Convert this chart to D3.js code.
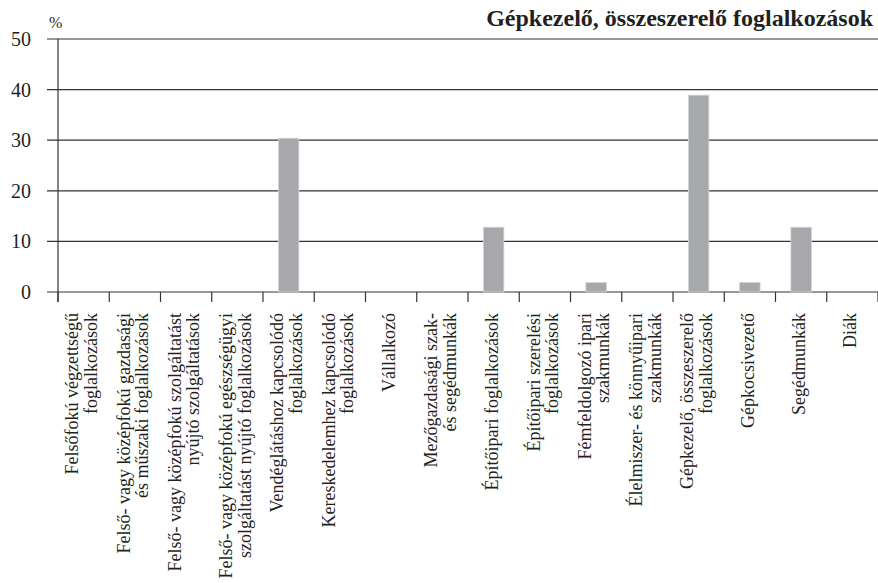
<!DOCTYPE html>
<html>
<meta charset="utf-8">
<head>
<script src="https://d3js.org/d3.v7.min.js"></script>
<style>
  body { margin: 0; background: #fff; }
  text { font-family: "Liberation Serif", "Times New Roman", serif; fill: #231f20; }
</style>
</head>
<body>
<div id="chart"></div>
<script>

// categories (each label split into its printed lines)
var categories = [
  ["Felsőfokú végzettségű", "foglalkozások"],
  ["Felső- vagy középfokú gazdasági", "és műszaki foglalkozások"],
  ["Felső- vagy középfokú szolgáltatást", "nyújtó szolgáltatások"],
  ["Felső- vagy középfokú egészségügyi", "szolgáltatást nyújtó foglalkozások"],
  ["Vendéglátáshoz kapcsolódó", "foglalkozások"],
  ["Kereskedelemhez kapcsolódó", "foglalkozások"],
  ["Vállalkozó"],
  ["Mezőgazdasági szak-", "és segédmunkák"],
  ["Építőipari foglalkozások"],
  ["Építőipari szerelési", "foglalkozások"],
  ["Fémfeldolgozó ipari", "szakmunkák"],
  ["Élelmiszer- és könnyűipari", "szakmunkák"],
  ["Gépkezelő, összeszerelő", "foglalkozások"],
  ["Gépkocsivezető"],
  ["Segédmunkák"],
  ["Diák"]
];

// share in percent
var values = [0, 0, 0, 0, 30.4, 0, 0, 0, 12.8, 0, 1.9, 0, 38.9, 1.9, 12.8, 0];

var yTicks = [0, 10, 20, 30, 40, 50];

var title = "Gépkezelő, összeszerelő foglalkozások";
var unit = "%";

var W = 878, H = 583;
var mLeft = 58, mRight = 878, mTop = 39, mBottom = 292;

var svg = d3.select("#chart").append("svg")
    .attr("width", W)
    .attr("height", H);

svg.append("rect").attr("width", W).attr("height", H).attr("fill", "#fff");

var x = d3.scaleBand()
    .domain(d3.range(categories.length))
    .range([mLeft, mRight])
    .paddingInner(0.6)
    .paddingOuter(0.3);

var xb = d3.scaleBand()
    .domain(d3.range(categories.length))
    .range([mLeft, mRight]);

var y = d3.scaleLinear()
    .domain([0, 50])
    .range([mBottom, mTop]);

// gridlines with left ticks
svg.append("g")
  .selectAll("line")
  .data(yTicks)
  .enter().append("line")
    .attr("x1", 47)
    .attr("x2", mRight)
    .attr("y1", function(d) { return y(d); })
    .attr("y2", function(d) { return y(d); })
    .attr("stroke", "#333")
    .attr("stroke-width", 1.2);

// y labels
svg.append("g")
  .selectAll("text")
  .data(yTicks)
  .enter().append("text")
    .attr("x", 31)
    .attr("y", function(d) { return y(d); })
    .attr("dy", "0.35em")
    .attr("text-anchor", "end")
    .style("font-size", "20px")
    .text(function(d) { return d; });

// bars
svg.append("g")
  .selectAll("rect")
  .data(values)
  .enter().append("rect")
    .attr("x", function(d, i) { return x(i); })
    .attr("width", x.bandwidth())
    .attr("y", function(d) { return y(d); })
    .attr("height", function(d) { return y(0) - y(d); })
    .attr("fill", "#a7a8ac")
    .attr("stroke", "#d4d5d7")
    .attr("stroke-width", 0.8);

// y axis line
svg.append("line")
  .attr("x1", mLeft).attr("x2", mLeft)
  .attr("y1", mTop).attr("y2", mBottom + 10)
  .attr("stroke", "#333").attr("stroke-width", 1.2);

// x ticks at band boundaries
svg.append("g")
  .selectAll("line")
  .data(d3.range(categories.length + 1))
  .enter().append("line")
    .attr("x1", function(i) { return mLeft + i * xb.step(); })
    .attr("x2", function(i) { return mLeft + i * xb.step(); })
    .attr("y1", mBottom)
    .attr("y2", mBottom + 10)
    .attr("stroke", "#333")
    .attr("stroke-width", 1.2);

// category labels, rotated
var lab = svg.append("g")
  .selectAll("g")
  .data(categories)
  .enter().append("g");

lab.each(function(lines, i) {
  var cx = xb(i) + xb.bandwidth() / 2;
  var n = lines.length;
  d3.select(this).selectAll("text")
    .data(lines)
    .enter().append("text")
      .attr("transform", function(t, j) {
        var bx = cx + (j - (n - 1) / 2) * 18.5 + 4;
        return "translate(" + bx + ",313) rotate(-90)";
      })
      .attr("text-anchor", "end")
      .style("font-size", "18px")
      .text(function(t) { return t; });
});

// unit
svg.append("text")
  .attr("x", 49)
  .attr("y", 28)
  .style("font-size", "16px")
  .text(unit);

// title
svg.append("text")
  .attr("x", 873)
  .attr("y", 26)
  .attr("text-anchor", "end")
  .style("font-size", "24px")
  .style("font-weight", "bold")
  .text(title);

</script>
</body>
</html>
